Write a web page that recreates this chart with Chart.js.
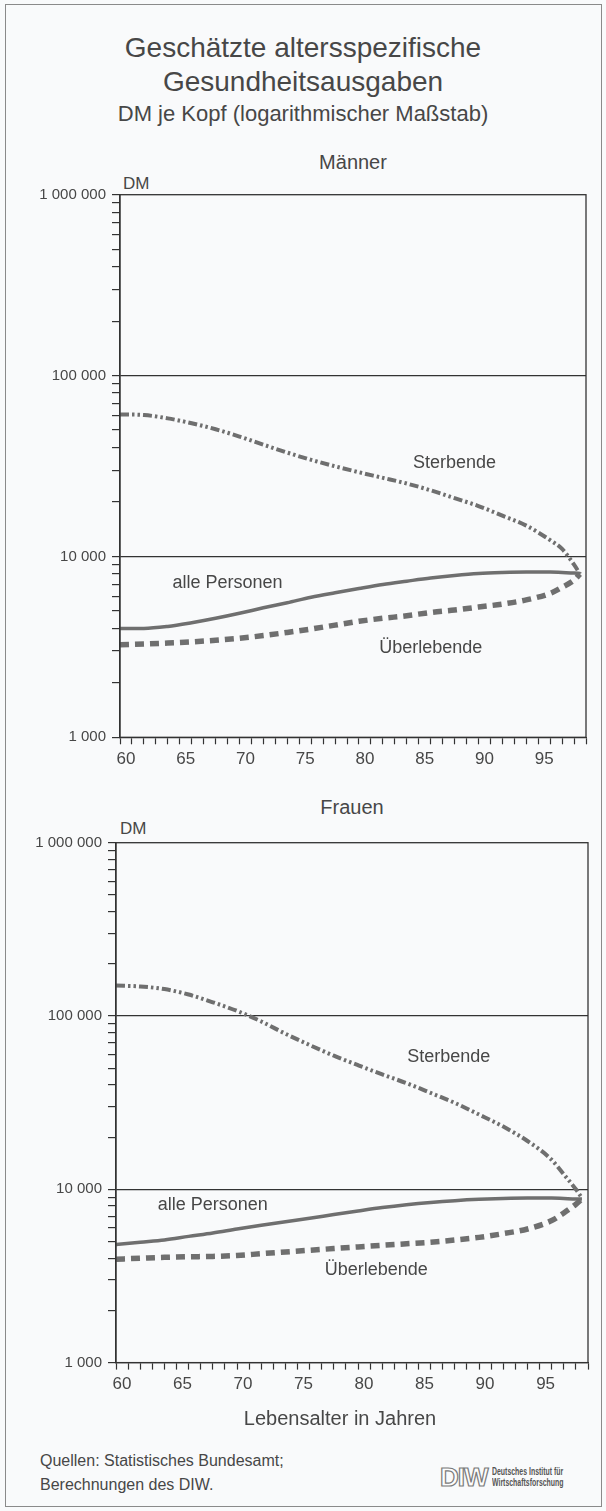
<!DOCTYPE html>
<html lang="de">
<head>
<meta charset="utf-8">
<title>Geschätzte altersspezifische Gesundheitsausgaben</title>
<script src="https://cdn.jsdelivr.net/npm/chart.js@4.4.0/dist/chart.umd.min.js"></script>
<style>
  html, body { margin: 0; padding: 0; }
  body { width: 606px; height: 1511px; background: #f9fafb; position: relative; overflow: hidden;
         font-family: "Liberation Sans", Arial, sans-serif; color: #474747; }
  .frame { position: absolute; left: 5px; top: 4px; width: 597px; height: 1503px;
           border: 1px solid #8a8a8a; box-sizing: border-box; }
  .txt { position: absolute; white-space: nowrap; line-height: 1; }
  .center { left: 0; width: 606px; text-align: center; }
  .panel { left: 120px; width: 466px; text-align: center; font-size: 20px; }
  .box { position: absolute; left: 0; width: 606px; }
  .diw { position: absolute; left: 440px; top: 1464px; height: 28px; }
  .diw .mark { position: absolute; left: 0; top: 0; font-size: 26px; font-weight: bold; color: #fdfdfd;
               -webkit-text-stroke: 1.2px #7a7a7a; letter-spacing: -1px; line-height: 26px; }
  .diw .name { position: absolute; left: 52px; top: 2px; font-family: "Liberation Sans", sans-serif;
               font-weight: bold; font-size: 10.5px; line-height: 11px; color: #555; white-space: nowrap;
               transform: scaleX(0.66); transform-origin: 0 0; }
</style>
</head>
<body>
<div class="frame"></div>

<div class="txt center" style="top:34px;font-size:28px;">Geschätzte altersspezifische</div>
<div class="txt center" style="top:68px;font-size:28px;">Gesundheitsausgaben</div>
<div class="txt center" style="top:103px;font-size:22px;">DM je Kopf (logarithmischer Maßstab)</div>

<div class="txt panel" style="top:152px;">Männer</div>
<div class="txt" style="top:175px;left:123px;font-size:17px;">DM</div>
<div class="box" style="top:170px;height:615px;"><canvas id="men-chart"></canvas></div>

<div class="txt panel" style="top:797px;left:116px;width:472px;">Frauen</div>
<div class="txt" style="top:820px;left:120px;font-size:17px;">DM</div>
<div class="box" style="top:818px;height:590px;"><canvas id="women-chart"></canvas></div>

<div class="txt" style="top:1408px;left:190px;width:300px;text-align:center;font-size:20px;">Lebensalter in Jahren</div>

<div class="txt" style="top:1453px;left:40px;font-size:16px;">Quellen: Statistisches Bundesamt;</div>
<div class="txt" style="top:1477px;left:40px;font-size:16px;">Berechnungen des DIW.</div>
<div class="diw">
  <div class="mark">DIW</div>
  <div class="name">Deutsches Institut für<br>Wirtschaftsforschung</div>
</div>

<script>
// Lebensalter (x) – gemeinsame Stützstellen aller Kurven
var ages = [60, 62, 64, 66, 68, 70, 72, 74, 76, 78, 80, 82, 84, 86, 88, 90, 92, 94, 96, 97, 98, 98.5];

// Männer, DM je Kopf
var menDying     = [61000, 60500, 58000, 54500, 50500, 46000, 41500, 37500, 34200, 31500, 29200, 27200, 25300, 23200, 21000, 19000, 16800, 14800, 12300, 11000, 9000, 8000];
var menAll       = [4000, 4000, 4100, 4300, 4550, 4850, 5200, 5550, 5950, 6300, 6650, 7000, 7300, 7600, 7850, 8050, 8150, 8200, 8200, 8150, 8100, 8050];
var menSurvivors = [3250, 3280, 3320, 3370, 3440, 3530, 3650, 3800, 3970, 4170, 4380, 4550, 4700, 4900, 5050, 5250, 5450, 5750, 6250, 6750, 7400, 8000];

// Frauen, DM je Kopf
var womenDying     = [150000, 148000, 143000, 133000, 120000, 107000, 93000, 79000, 68000, 59000, 52000, 46000, 41000, 36000, 31500, 27000, 23000, 19000, 14800, 12200, 10000, 8900];
var womenAll       = [4800, 4950, 5100, 5350, 5600, 5900, 6200, 6500, 6800, 7150, 7500, 7850, 8150, 8400, 8600, 8750, 8850, 8900, 8900, 8850, 8800, 8800];
var womenSurvivors = [3950, 4000, 4050, 4080, 4100, 4150, 4250, 4350, 4450, 4550, 4650, 4750, 4850, 4950, 5100, 5280, 5550, 5900, 6600, 7300, 8200, 8800];

// Achsen
var xMin = 60, xMax = 99;
var xLabelAges = [60, 65, 70, 75, 80, 85, 90, 95];
var yDecades = [1000, 10000, 100000, 1000000];
var yTickValues = [1000, 2000, 3000, 4000, 5000, 6000, 7000, 8000, 9000,
                   10000, 20000, 30000, 40000, 50000, 60000, 70000, 80000, 90000,
                   100000, 200000, 300000, 400000, 500000, 600000, 700000, 800000, 900000, 1000000];

// Beschriftungen im Diagramm (Alter, Wert)
var menLabels = [
  { text: 'Sterbende', x: 88, y: 33000 },
  { text: 'alle Personen', x: 69, y: 7100 },
  { text: 'Überlebende', x: 86, y: 3100 }
];
var womenLabels = [
  { text: 'Sterbende', x: 87.5, y: 58000 },
  { text: 'alle Personen', x: 68, y: 8100 },
  { text: 'Überlebende', x: 81.5, y: 3400 }
];

var INK = '#333333', LINE = '#6f6f6f', TEXT = '#474747';

function fmt(v) { return String(v).replace(/\B(?=(\d{3})+(?!\d))/g, ' '); }

function pts(xs, ys) {
  var out = [];
  for (var i = 0; i < xs.length; i++) out.push({ x: xs[i], y: ys[i] });
  return out;
}

// Rahmen um die Zeichenfläche und Kurvenbeschriftungen
var framePlugin = {
  id: 'frame',
  afterDraw: function (chart) {
    var a = chart.chartArea, ctx = chart.ctx;
    ctx.save();
    ctx.strokeStyle = INK;
    ctx.lineWidth = 1.3;
    ctx.strokeRect(a.left, a.top, a.right - a.left, a.bottom - a.top);
    ctx.restore();
  }
};

var labelPlugin = {
  id: 'curveLabels',
  afterDatasetsDraw: function (chart, args, opts) {
    var ctx = chart.ctx, xs = chart.scales.x, ys = chart.scales.y;
    ctx.save();
    ctx.fillStyle = TEXT;
    ctx.font = '18px "Liberation Sans", Arial, sans-serif';
    ctx.textAlign = 'center';
    ctx.textBaseline = 'middle';
    (opts.items || []).forEach(function (l) {
      ctx.fillText(l.text, xs.getPixelForValue(l.x), ys.getPixelForValue(l.y));
    });
    ctx.restore();
  }
};

function makeChart(id, series, labels, geo) {
  return new Chart(document.getElementById(id).getContext('2d'), {
    type: 'line',
    data: {
      datasets: [
        { label: 'Sterbende', data: pts(ages, series[0]), borderColor: LINE, borderWidth: 4,
          borderDash: [9, 3, 2.5, 3, 2.5, 3], pointRadius: 0, tension: 0.4, cubicInterpolationMode: 'monotone' },
        { label: 'alle Personen', data: pts(ages, series[1]), borderColor: LINE, borderWidth: 3.5,
          pointRadius: 0, tension: 0.4, cubicInterpolationMode: 'monotone' },
        { label: 'Überlebende', data: pts(ages, series[2]), borderColor: LINE, borderWidth: 5.5,
          borderDash: [9, 6], pointRadius: 0, tension: 0.4, cubicInterpolationMode: 'monotone' }
      ]
    },
    options: {
      responsive: true, maintainAspectRatio: false, animation: false,
      layout: { padding: { top: geo.top, right: geo.right, left: 0, bottom: 0 } },
      plugins: {
        legend: { display: false },
        tooltip: { enabled: false },
        curveLabels: { items: labels }
      },
      scales: {
        x: {
          type: 'linear', min: xMin, max: xMax,
          afterFit: function (s) { s.height = geo.xHeight; },
          border: { display: true, color: INK, width: 1.3 },
          grid: { drawOnChartArea: false, drawTicks: true, tickLength: 7, tickColor: INK, tickWidth: 1.2 },
          ticks: {
            stepSize: 1, autoSkip: false, maxRotation: 0, padding: 5, labelOffset: geo.labelOffset,
            color: TEXT, font: { size: 17, family: '"Liberation Sans", Arial, sans-serif' },
            callback: function (v) { return xLabelAges.indexOf(v) >= 0 ? String(v) : ''; }
          }
        },
        y: {
          type: 'logarithmic', min: 1000, max: 1000000,
          afterFit: function (s) { s.width = geo.left; },
          afterBuildTicks: function (s) { s.ticks = yTickValues.map(function (v) { return { value: v }; }); },
          border: { display: true, color: INK, width: 1.3 },
          grid: {
            drawTicks: true, tickLength: 8, tickColor: INK, tickWidth: 1.2, lineWidth: 1.2,
            color: function (c) {
              var v = c.tick && c.tick.value;
              return (v === 10000 || v === 100000) ? INK : 'rgba(0,0,0,0)';
            }
          },
          ticks: {
            autoSkip: false, padding: 6, color: TEXT,
            font: { size: 15, family: '"Liberation Sans", Arial, sans-serif' },
            callback: function (v) { return yDecades.indexOf(v) >= 0 ? fmt(v) : ''; }
          }
        }
      }
    },
    plugins: [framePlugin, labelPlugin]
  });
}

makeChart('men-chart', [menDying, menAll, menSurvivors], menLabels,
  { top: 24.7, right: 20, left: 120, xHeight: 47.7, labelOffset: 6 });
makeChart('women-chart', [womenDying, womenAll, womenSurvivors], womenLabels,
  { top: 24.7, right: 18, left: 116, xHeight: 45.4, labelOffset: 6 });
</script>
</body>
</html>
